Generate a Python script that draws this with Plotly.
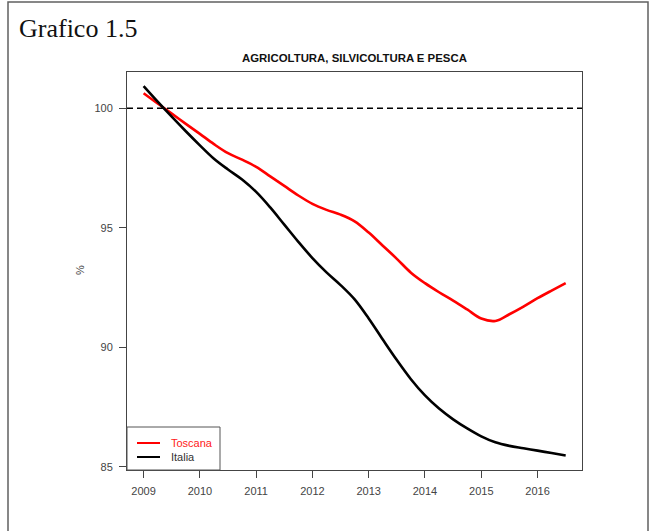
import plotly.graph_objects as go

# Quarterly index values (base = 100), 2009 Q1 .. 2016 Q3
years = [2009.0 + 0.25 * i for i in range(31)]

toscana = [100.63, 100.20, 99.78, 99.35, 98.93, 98.50, 98.12, 97.85,
           97.55, 97.15, 96.75, 96.35, 96.00, 95.75, 95.55, 95.27,
           94.80, 94.25, 93.70, 93.12, 92.68, 92.30, 91.95, 91.58,
           91.20, 91.10, 91.38, 91.70, 92.05, 92.37, 92.68]

italia = [100.93, 100.28, 99.65, 99.04, 98.45, 97.89, 97.44, 97.02,
          96.50, 95.85, 95.13, 94.41, 93.73, 93.13, 92.60, 92.00,
          91.20, 90.32, 89.46, 88.66, 87.98, 87.43, 86.98, 86.60,
          86.27, 86.02, 85.87, 85.77, 85.67, 85.57, 85.47]

series_names = ["Toscana", "Italia"]
series_colors = ["#ff0000", "#000000"]
label_colors = ["#ff2020", "#333333"]

x_ticks = [2009, 2010, 2011, 2012, 2013, 2014, 2015, 2016]
y_ticks = [85, 90, 95, 100]
reference_level = 100

W, H = 654, 531
ML, MR, MT, MB = 127, 72, 72, 61
PW, PH = W - ML - MR, H - MT - MB


def px_x(p):
    return (p - ML) / PW


def px_y(p):
    return 1 - (p - MT) / PH


fig = go.Figure()

for name, vals, col in zip(series_names, [toscana, italia], series_colors):
    fig.add_trace(go.Scatter(
        x=years, y=vals, mode="lines", line_shape="spline",
        name=name, showlegend=False,
        line=dict(color=col, width=2.6),
    ))

# dashed reference line at 100
fig.add_shape(type="line", xref="paper", yref="y",
              x0=0, x1=1, y0=reference_level, y1=reference_level,
              line=dict(color="black", width=1.5, dash="6px,4px"), layer="above")

# outer frame
fig.add_shape(type="rect", xref="paper", yref="paper",
              x0=px_x(8), x1=px_x(648), y0=px_y(540), y1=px_y(2),
              line=dict(color="#606060", width=1.5), layer="above")

# legend box, bottom-left corner of the plot
fig.add_shape(type="rect", xref="paper", yref="paper",
              x0=0, x1=px_x(220), y0=0, y1=px_y(427),
              line=dict(color="#555", width=1), fillcolor="white", layer="above")
for i, (name, col, lcol) in enumerate(zip(series_names, series_colors, label_colors)):
    yy = px_y(443 + 14 * i)
    fig.add_shape(type="line", xref="paper", yref="paper",
                  x0=px_x(137), x1=px_x(160), y0=yy, y1=yy,
                  line=dict(color=col, width=2), layer="above")
    fig.add_annotation(text=name, xref="paper", yref="paper",
                       x=px_x(169), y=yy, xanchor="left", yanchor="middle",
                       showarrow=False,
                       font=dict(family="Liberation Sans, Arial, sans-serif", size=11, color=lcol))

axis_font = dict(family="Liberation Sans, Arial, sans-serif", size=11, color="#444")

fig.update_xaxes(
    range=[2008.705, 2016.79], tickvals=x_ticks, ticktext=[str(v) for v in x_ticks],
    showgrid=False, zeroline=False, showline=True, mirror=True,
    linecolor="#444", linewidth=1, ticks="outside", ticklen=7, tickcolor="#444",
    tickfont=axis_font, ticklabelstandoff=4,
)
fig.update_yaxes(
    range=[84.86, 101.52], tickvals=y_ticks, ticktext=[str(v) for v in y_ticks],
    showgrid=False, zeroline=False, showline=True, mirror=True,
    linecolor="#444", linewidth=1, ticks="outside", ticklen=7, tickcolor="#444",
    tickfont=axis_font, ticklabelstandoff=4,
)

fig.add_annotation(text="Grafico 1.5", xref="paper", yref="paper",
                   x=px_x(17), y=px_y(29), xanchor="left", yanchor="middle",
                   showarrow=False,
                   font=dict(family="Liberation Serif, Times New Roman, serif", size=26, color="#111"))
fig.add_annotation(text="<b>AGRICOLTURA, SILVICOLTURA E PESCA</b>", xref="paper", yref="paper",
                   x=0.5, y=px_y(58), xanchor="center", yanchor="middle",
                   showarrow=False,
                   font=dict(family="Liberation Sans, Arial, sans-serif", size=11.4, color="#111"))
fig.add_annotation(text="%", xref="paper", yref="paper",
                   x=px_x(80), y=px_y(270), xanchor="center", yanchor="middle",
                   textangle=-90, showarrow=False,
                   font=dict(family="Liberation Sans, Arial, sans-serif", size=11, color="#444"))

fig.update_layout(
    width=W, height=H,
    margin=dict(l=ML, r=MR, t=MT, b=MB, pad=0),
    paper_bgcolor="white", plot_bgcolor="white",
    showlegend=False,
)

fig.write_html("out.html")
